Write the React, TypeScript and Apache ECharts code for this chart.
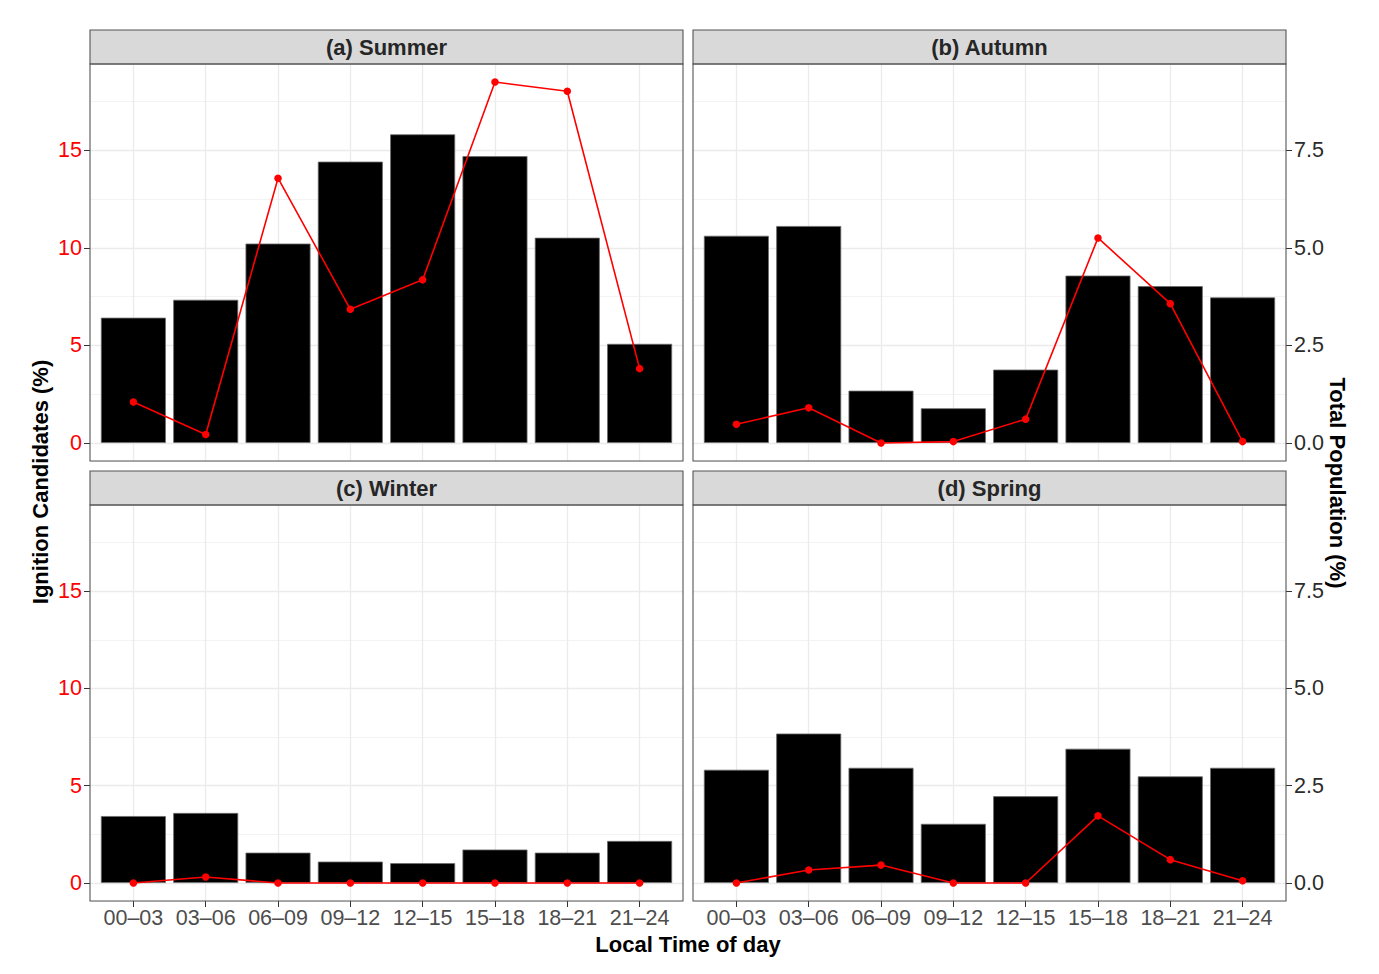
import React, { useEffect, useRef } from "react";
import * as echarts from "echarts";

// ---------------- data ----------------
const timeSlots = ["00–03", "03–06", "06–09", "09–12", "12–15", "15–18", "18–21", "21–24"];
const panelTitles = ["(a) Summer", "(b) Autumn", "(c) Winter", "(d) Spring"];

// Total Population (%) — bars, right axis
const summerPopulation = [3.21, 3.67, 5.11, 7.21, 7.91, 7.35, 5.26, 2.54];
const autumnPopulation = [5.31, 5.56, 1.34, 0.89, 1.88, 4.29, 4.02, 3.73];
const winterPopulation = [1.72, 1.8, 0.78, 0.55, 0.51, 0.86, 0.78, 1.08];
const springPopulation = [2.91, 3.84, 2.96, 1.52, 2.23, 3.45, 2.74, 2.96];

// Ignition Candidates (%) — red line, left axis
const summerIgnition = [2.1, 0.43, 13.57, 6.85, 8.36, 18.5, 18.03, 3.81];
const autumnIgnition = [0.96, 1.8, 0, 0.07, 1.22, 10.51, 7.14, 0.07];
const winterIgnition = [0, 0.31, 0, 0, 0, 0, 0, 0];
const springIgnition = [0, 0.67, 0.92, 0, 0, 3.45, 1.2, 0.12];

const ignitionTicks = [0, 5, 10, 15];
const populationTicks = [0, 2.5, 5, 7.5];
const categoryPositions = [1, 2, 3, 4, 5, 6, 7, 8];

const populationSeries = [summerPopulation, autumnPopulation, winterPopulation, springPopulation];
const ignitionSeries = [summerIgnition, autumnIgnition, winterIgnition, springIgnition];

// secondary axis: population = ignition / 2
const SEC_RATIO = 2;

// ---------------- layout ----------------
const FONT = "'Liberation Sans', Arial, Helvetica, sans-serif";
const PANEL_W = 593;
const STRIP_H = 34;
const panels = [
  { left: 90, top: 64, height: 397 },
  { left: 693, top: 64, height: 397 },
  { left: 90, top: 505, height: 396 },
  { left: 693, top: 505, height: 396 },
];
const BORDER = "#555555";

export default function App() {
  const ref = useRef<HTMLDivElement>(null);

  useEffect(() => {
    if (!ref.current) return;
    const chart = echarts.init(ref.current, undefined, { renderer: "svg" });

    const allVals: number[] = [];
    ignitionSeries.forEach((s) => s.forEach((v) => allVals.push(v)));
    populationSeries.forEach((s) => s.forEach((v) => allVals.push(v * SEC_RATIO)));
    const dataMax = Math.max(...allVals);
    const pad = dataMax * 0.05;
    const yMin = -pad;
    const yMax = dataMax + pad;

    const grid: any[] = [];
    const xAxis: any[] = [];
    const yAxis: any[] = [];
    const series: any[] = [];
    const graphic: any[] = [];

    panels.forEach((p, i) => {
      const isLeft = i % 2 === 0;
      const isBottom = i >= 2;
      grid.push({ left: p.left, top: p.top, width: PANEL_W, height: p.height, show: false });

      xAxis.push({
        type: "value",
        gridIndex: i,
        min: 0.4,
        max: 8.6,
        minInterval: 1,
        maxInterval: 1,
        axisLine: { show: false, onZero: false },
        axisTick: {
          show: isBottom,
          customValues: categoryPositions,
          length: 6,
          lineStyle: { color: "#333333", width: 1 },
        },
        axisLabel: {
          show: isBottom,
          customValues: categoryPositions,
          formatter: (v: number) => timeSlots[Math.round(v) - 1] ?? "",
          color: "#4D4D4D",
          fontSize: 21.5,
          fontFamily: FONT,
          margin: 6,
        },
        splitLine: { show: true, lineStyle: { color: "#EBEBEB", width: 1.3 } },
      });

      // minor grid axis
      yAxis.push({
        type: "value",
        gridIndex: i,
        position: "left",
        min: yMin,
        max: yMax,
        minInterval: 2.5,
        maxInterval: 2.5,
        axisLine: { show: false, onZero: false },
        axisTick: { show: false },
        axisLabel: { show: false },
        splitLine: { show: true, lineStyle: { color: "#F2F2F2", width: 0.9 } },
      });
      // left: ignition
      yAxis.push({
        type: "value",
        gridIndex: i,
        position: "left",
        min: yMin,
        max: yMax,
        minInterval: 5,
        maxInterval: 5,
        axisLine: { show: false, onZero: false },
        axisTick: {
          show: isLeft,
          customValues: ignitionTicks,
          length: 6,
          lineStyle: { color: "#333333", width: 1 },
        },
        axisLabel: {
          show: isLeft,
          customValues: ignitionTicks,
          formatter: (v: number) => String(v),
          color: "#FF0000",
          fontSize: 21.5,
          fontFamily: FONT,
          margin: 8,
        },
        splitLine: { show: true, lineStyle: { color: "#EBEBEB", width: 1.3 } },
      });
      // right: population
      yAxis.push({
        type: "value",
        gridIndex: i,
        position: "right",
        min: yMin / SEC_RATIO,
        max: yMax / SEC_RATIO,
        minInterval: 2.5,
        maxInterval: 2.5,
        axisLine: { show: false, onZero: false },
        axisTick: {
          show: !isLeft,
          customValues: populationTicks,
          length: 6,
          lineStyle: { color: "#333333", width: 1 },
        },
        axisLabel: {
          show: !isLeft,
          customValues: populationTicks,
          formatter: (v: number) => v.toFixed(1),
          color: "#2B2B2B",
          fontSize: 21.5,
          fontFamily: FONT,
          margin: 8,
        },
        splitLine: { show: false },
      });

      series.push({
        type: "bar",
        xAxisIndex: i,
        yAxisIndex: i * 3 + 2,
        data: populationSeries[i].map((v, k) => [categoryPositions[k], v]),
        barWidth: 65,
        itemStyle: { color: "#000000", borderColor: "#6B6B6B", borderWidth: 0.8 },
        z: 2,
      });
      series.push({
        type: "line",
        xAxisIndex: i,
        yAxisIndex: i * 3 + 1,
        data: ignitionSeries[i].map((v, k) => [categoryPositions[k], v]),
        symbol: "circle",
        symbolSize: 7.5,
        lineStyle: { color: "#FF0000", width: 1.6 },
        itemStyle: { color: "#FF0000" },
        z: 3,
      });

      // strip
      graphic.push({
        type: "rect",
        z: 100,
        shape: { x: p.left, y: p.top - STRIP_H, width: PANEL_W, height: STRIP_H },
        style: { fill: "#D9D9D9", stroke: BORDER, lineWidth: 1.1 },
      });
      graphic.push({
        type: "text",
        z: 101,
        x: p.left + PANEL_W / 2,
        y: p.top - STRIP_H / 2,
        style: {
          text: panelTitles[i],
          fontSize: 22,
          fontWeight: "bold",
          fontFamily: FONT,
          fill: "#262626",
          align: "center",
          verticalAlign: "middle",
        },
      });
      // panel border
      graphic.push({
        type: "rect",
        z: 100,
        shape: { x: p.left, y: p.top, width: PANEL_W, height: p.height },
        style: { fill: "none", stroke: BORDER, lineWidth: 1.1 },
      });
    });

    graphic.push({
      type: "text",
      z: 101,
      x: 40,
      y: 482,
      rotation: Math.PI / 2,
      style: {
        text: "Ignition Candidates (%)",
        fontSize: 22,
        fontWeight: "bold",
        fontFamily: FONT,
        fill: "#000000",
        align: "center",
        verticalAlign: "middle",
      },
    });
    graphic.push({
      type: "text",
      z: 101,
      x: 1337,
      y: 483,
      rotation: -Math.PI / 2,
      style: {
        text: "Total Population (%)",
        fontSize: 22,
        fontWeight: "bold",
        fontFamily: FONT,
        fill: "#000000",
        align: "center",
        verticalAlign: "middle",
      },
    });
    graphic.push({
      type: "text",
      z: 101,
      x: 688,
      y: 944,
      style: {
        text: "Local Time of day",
        fontSize: 22,
        fontWeight: "bold",
        fontFamily: FONT,
        fill: "#000000",
        align: "center",
        verticalAlign: "middle",
      },
    });

    chart.setOption({
      animation: false,
      backgroundColor: "#FFFFFF",
      grid,
      xAxis,
      yAxis,
      series,
      graphic,
    });

    return () => chart.dispose();
  }, []);

  return (
    <div
      ref={ref}
      style={{ position: "fixed", left: 0, top: 0, width: 1379, height: 974, background: "#FFFFFF" }}
    />
  );
}
